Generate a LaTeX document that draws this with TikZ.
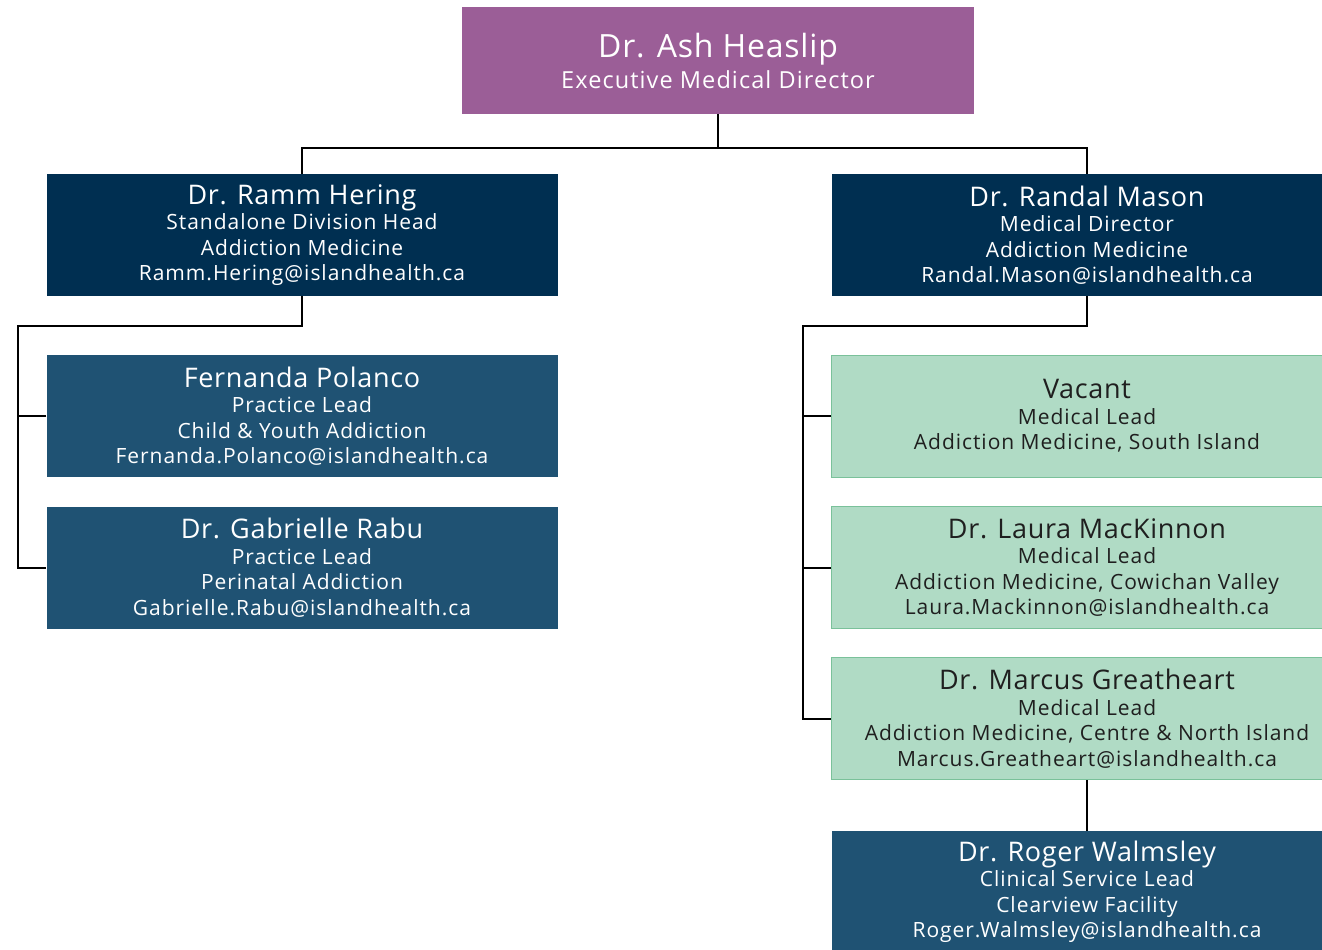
\documentclass[tikz,border=0pt]{standalone}
\usepackage{fontspec}
\setmainfont{Open Sans}[Ligatures=NoCommon, LetterSpace=4.6]
\newfontfamily\whofont{Open Sans}[Ligatures=NoCommon, LetterSpace=2.5]
\usetikzlibrary{positioning}
\definecolor{ashpurple}{RGB}{155,94,151}
\definecolor{leadnavy}{RGB}{0,47,81}
\definecolor{teamblue}{RGB}{31,82,115}
\definecolor{medgreen}{RGB}{176,219,197}
\definecolor{medline}{RGB}{122,193,154}
\newcommand{\who}[2][27]{{\whofont\fontsize{#1}{30}\selectfont #2}\\[0pt]}
\tikzset{
  box/.style={rectangle, minimum width=511pt, minimum height=122pt, align=center, inner sep=0pt,
    font=\fontsize{21}{25.5}\selectfont},
  topbox/.style={box, fill=ashpurple, text=white, minimum width=512pt, minimum height=107pt,
    font=\fontsize{23.5}{31}\selectfont},
  leadbox/.style={box, fill=leadnavy, text=white},
  teambox/.style={box, fill=teamblue, text=white},
  medbox/.style={box, fill=medgreen, draw=medline, line width=1pt, text=black!88},
  link/.style={draw=black, line width=2pt}
}
\begin{document}
\begin{tikzpicture}[x=1pt,y=-1pt]
\useasboundingbox (0,0) rectangle (1322,950);
% top
\node[topbox] (ash) at (718,60.5) {\who[32]{Dr. Ash Heaslip}Executive Medical Director};
% second row
\node[leadbox] (ramm) at (302,235) {\who{Dr. Ramm Hering}Standalone Division Head\\Addiction Medicine\\Ramm.Hering@islandhealth.ca};
\node[leadbox] (randal) at (1087,235) {\who{Dr. Randal Mason}Medical Director\\Addiction Medicine\\Randal.Mason@islandhealth.ca};
% left team
\node[teambox] (fernanda) at (302,416) {\who{Fernanda Polanco}Practice Lead\\Child \& Youth Addiction\\Fernanda.Polanco@islandhealth.ca};
\node[teambox] (gabrielle) at (302,567.5) {\who{Dr. Gabrielle Rabu}Practice Lead\\Perinatal Addiction\\Gabrielle.Rabu@islandhealth.ca};
% right team
\node[medbox] (vacant) at (1087,416) {\who{Vacant}Medical Lead\\Addiction Medicine, South Island};
\node[medbox] (laura) at (1087,567.5) {\who{Dr. Laura MacKinnon}Medical Lead\\Addiction Medicine, Cowichan Valley\\Laura.Mackinnon@islandhealth.ca};
\node[medbox] (marcus) at (1087,718.5) {\who{Dr. Marcus Greatheart}Medical Lead\\Addiction Medicine, Centre \& North Island\\Marcus.Greatheart@islandhealth.ca};
\node[teambox] (roger) at (1087,892) {\who{Dr. Roger Walmsley}Clinical Service Lead\\Clearview Facility\\Roger.Walmsley@islandhealth.ca};
% connectors
\coordinate (lspine) at (18,326);
\coordinate (rspine) at (803,326);
\draw[link] (ash.south) -- ++(0,34) -| (ramm.north);
\draw[link] (ash.south) ++(0,34) -| (randal.north);
\draw[link] (ramm.south) |- (lspine) |- (gabrielle.west);
\draw[link] (fernanda.west) -- (fernanda.west -| lspine);
\draw[link] (randal.south) |- (rspine) |- (marcus.west);
\draw[link] (vacant.west) -- (vacant.west -| rspine);
\draw[link] (laura.west) -- (laura.west -| rspine);
\draw[link] (marcus.south) -- (roger.north);
\end{tikzpicture}
\end{document}
